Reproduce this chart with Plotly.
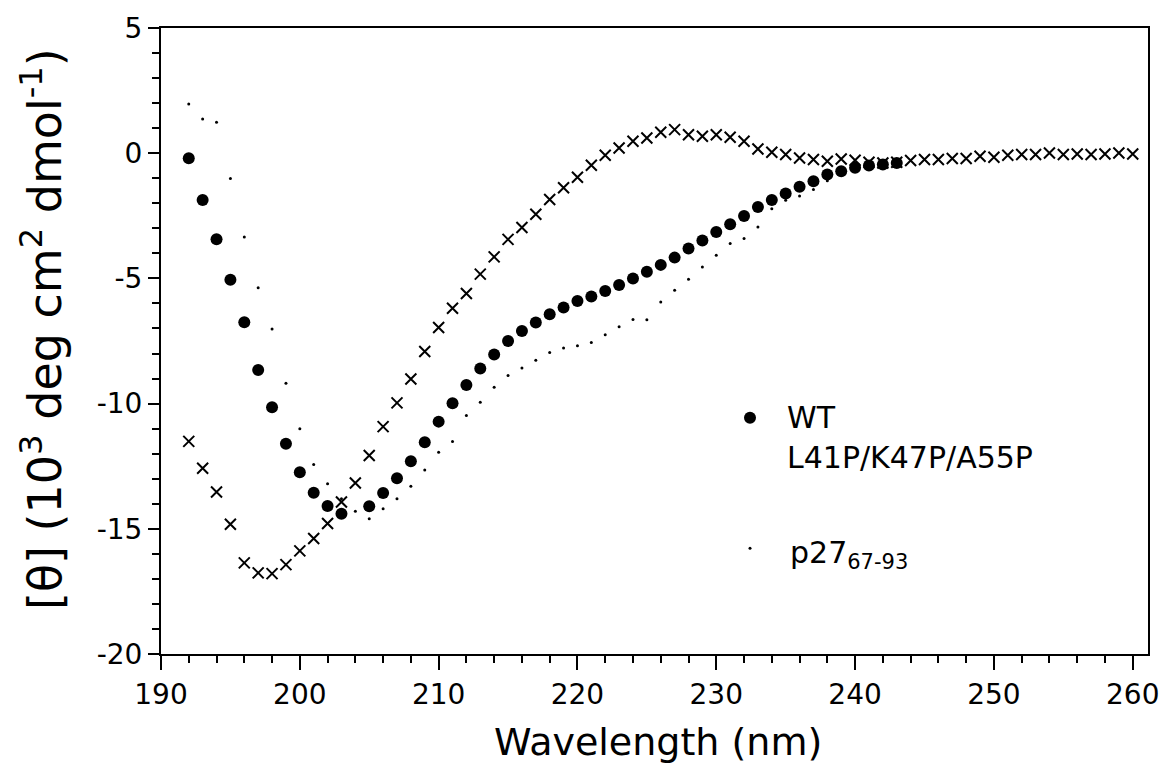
import plotly.graph_objects as go

FONT = "DejaVu Sans"

# Wild type p27 (filled circles)
wl_wt = [192, 193, 194, 195, 196, 197, 198, 199, 200, 201, 202, 203,
         205, 206, 207, 208, 209, 210, 211, 212, 213, 214, 215, 216, 217,
         218, 219, 220, 221, 222, 223, 224, 225, 226, 227, 228, 229, 230,
         231, 232, 233, 234, 235, 236, 237, 238, 239, 240, 241, 242, 243]
theta_wt = [-0.2, -1.87, -3.44, -5.05, -6.75, -8.66, -10.15, -11.6, -12.74, -13.56, -14.09, -14.4,
            -14.1, -13.57, -12.98, -12.3, -11.54, -10.72, -9.99, -9.26, -8.6, -8.04, -7.5, -7.1, -6.76,
            -6.43, -6.16, -5.9, -5.72, -5.5, -5.26, -5.0, -4.73, -4.46, -4.17, -3.81, -3.49, -3.15,
            -2.84, -2.51, -2.15, -1.87, -1.61, -1.34, -1.12, -0.85, -0.72, -0.58, -0.49, -0.45, -0.39]

# L41P/K47P/A55P triple proline mutant (crosses)
wl_mut = [192, 193, 194, 195, 196, 197, 198, 199, 200, 201, 202, 203, 204, 205, 206, 207,
          208, 209, 210, 211, 212, 213, 214, 215, 216, 217, 218, 219, 220, 221, 222, 223,
          224, 225, 226, 227, 228, 229, 230, 231, 232, 233, 234, 235, 236, 237, 238, 239,
          240, 241, 242, 243, 244, 245, 246, 247, 248, 249, 250, 251, 252, 253, 254, 255,
          256, 257, 258, 259, 260]
theta_mut = [-11.51, -12.58, -13.53, -14.82, -16.36, -16.76, -16.79, -16.43, -15.88, -15.39, -14.79, -13.93,
             -13.17, -12.07, -10.92, -9.97, -9.02, -7.92, -6.96, -6.19, -5.6, -4.83, -4.14, -3.44,
             -2.97, -2.44, -1.85, -1.38, -0.96, -0.48, -0.08, 0.21, 0.48, 0.61, 0.84, 0.94,
             0.74, 0.68, 0.74, 0.64, 0.48, 0.17, 0.04, -0.05, -0.19, -0.25, -0.32, -0.23,
             -0.28, -0.36, -0.39, -0.36, -0.29, -0.25, -0.25, -0.21, -0.21, -0.12, -0.16, -0.08,
             -0.05, -0.05, 0.01, -0.05, -0.03, -0.05, -0.03, 0.01, -0.03]

# p27 67-93 peptide (small dots)
wl_pep = [192, 193, 194, 195, 196, 197, 198, 199, 200, 201, 202, 203, 204, 205, 206, 207,
          208, 209, 210, 211, 212, 213, 214, 215, 216, 217, 218, 219, 220, 221, 222, 223,
          224, 225, 226, 227, 228, 229, 230, 231, 232, 233, 234, 235, 236, 237, 238, 239,
          240, 241, 242, 243]
theta_pep = [1.96, 1.37, 1.24, -1.01, -3.35, -5.37, -7.02, -9.19, -11.0, -12.43, -13.2, -13.8,
             -14.3, -14.6, -14.2, -13.8, -13.3, -12.65, -11.94, -11.51, -10.48, -9.95, -9.35, -8.88,
             -8.58, -8.27, -7.96, -7.78, -7.69, -7.56, -7.25, -6.93, -6.64, -6.65, -5.94, -5.47,
             -5.03, -4.54, -4.08, -3.61, -3.41, -2.95, -2.22, -1.88, -1.71, -1.45, -1.1, -0.85,
             -0.7, -0.6, -0.5, -0.45]

x_ticks = [190, 200, 210, 220, 230, 240, 250, 260]
y_ticks = [-20, -15, -10, -5, 0, 5]
y_ticktext = ["-20", "-15", "-10", "-5", "0", "5"]

fig = go.Figure()
fig.add_trace(go.Scatter(x=wl_pep, y=theta_pep, mode="markers", name="p27 67-93",
                         marker=dict(symbol="circle", size=3, color="black")))
fig.add_trace(go.Scatter(x=wl_wt, y=theta_wt, mode="markers", name="WT",
                         marker=dict(symbol="circle", size=12, color="black")))
fig.add_trace(go.Scatter(x=wl_mut, y=theta_mut, mode="markers", name="L41P/K47P/A55P",
                         marker=dict(symbol="x-thin", size=11, color="black",
                                     line=dict(width=2, color="black"))))

L, R, T, B = 161, 1148, 26, 654
W, H = 1171, 767


def px(xp):
    return (xp - L) / (R - L)


def py(yp):
    return (B - yp) / (B - T)


axis_common = dict(showline=True, linewidth=2, linecolor="black", mirror=True,
                   showgrid=False, zeroline=False, ticks="outside", tickwidth=2,
                   tickcolor="black", tickfont=dict(family=FONT, size=28, color="black"))

fig.update_xaxes(range=[190, 261.1], tickvals=x_ticks, ticklen=14,
                 minor=dict(dtick=2, tick0=190, ticks="outside", ticklen=7, tickwidth=1.5,
                            tickcolor="black"),
                 **axis_common)
fig.update_yaxes(range=[-20, 5], tickvals=y_ticks, ticktext=y_ticktext, ticklen=11,
                 minor=dict(dtick=1, tick0=0, ticks="outside", ticklen=7, tickwidth=1.5,
                            tickcolor="black"),
                 **axis_common)

annotations = [
    dict(text="Wavelength (nm)", x=px(658), y=py(742), xref="paper", yref="paper",
         xanchor="center", yanchor="middle", showarrow=False,
         font=dict(family=FONT, size=38, color="black")),
    dict(text="[θ] (10<sup>3</sup> deg cm<sup>2</sup> dmol<sup>-1</sup>)", x=px(42), y=py(328),
         xref="paper", yref="paper", xanchor="center", yanchor="middle", textangle=-90,
         showarrow=False, font=dict(family=FONT, size=46, color="black")),
    dict(text="WT", x=px(785), y=py(417), xref="paper", yref="paper", xanchor="left",
         yanchor="middle", showarrow=False, font=dict(family=FONT, size=30, color="black")),
    dict(text="L41P/K47P/A55P", x=px(785), y=py(457), xref="paper", yref="paper",
         xanchor="left", yanchor="middle", showarrow=False,
         font=dict(family=FONT, size=30, color="black")),
    dict(text="p27<sub>67-93</sub>", x=px(788), y=py(554), xref="paper", yref="paper",
         xanchor="left", yanchor="middle", showarrow=False,
         font=dict(family=FONT, size=30, color="black")),
]

shapes = [
    dict(type="circle", xref="paper", yref="paper", xsizemode="pixel", ysizemode="pixel",
         xanchor=px(750), yanchor=py(417), x0=-6, x1=6, y0=-6, y1=6,
         fillcolor="black", line=dict(width=0)),
    dict(type="circle", xref="paper", yref="paper", xsizemode="pixel", ysizemode="pixel",
         xanchor=px(750), yanchor=py(548), x0=-1.5, x1=1.5, y0=-1.5, y1=1.5,
         fillcolor="black", line=dict(width=0)),
]

fig.update_layout(width=W, height=H, showlegend=False,
                  margin=dict(l=L, r=W - R, t=T, b=H - B),
                  paper_bgcolor="white", plot_bgcolor="white",
                  annotations=annotations, shapes=shapes,
                  font=dict(family=FONT, color="black"))

fig.write_html("out.html")
